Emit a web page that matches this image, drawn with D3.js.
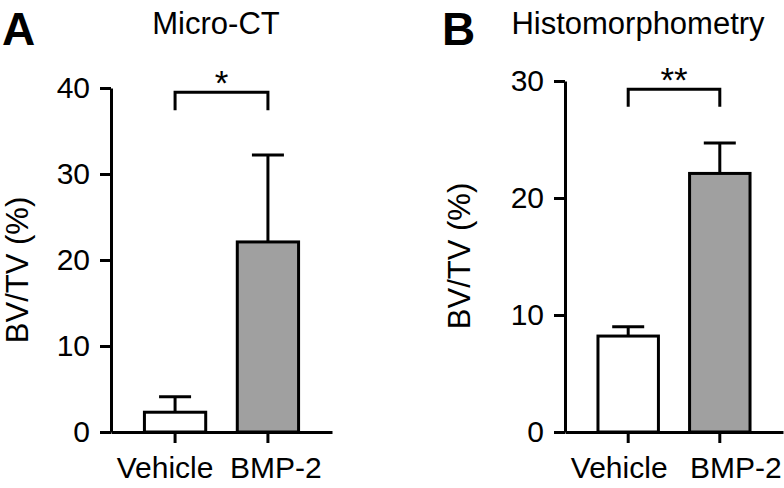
<!DOCTYPE html>
<html>
<head>
<meta charset="utf-8">
<script src="https://cdn.jsdelivr.net/npm/d3@7"></script>
<style>
  body { margin: 0; background: #fff; }
  svg { font-family: "Liberation Sans", Arial, Helvetica, sans-serif; }
</style>
</head>
<body>
<svg width="784" height="488"></svg>
<script>
var groups = ["Vehicle", "BMP-2"];

// panel A: micro-CT
var ctMeans = [2.3, 22.1];
var ctErrors = [1.8, 10.1];
var ctTicks = [0, 10, 20, 30, 40];
var ctSig = "*";

// panel B: histomorphometry
var histMeans = [8.2, 22.1];
var histErrors = [0.8, 2.6];
var histTicks = [0, 10, 20, 30];
var histSig = "**";

var svg = d3.select("svg");

var panels = [
    { letter: "A", title: "Micro-CT", means: ctMeans, errors: ctErrors, ticks: ctTicks, sig: ctSig,
      left: 111, right: 332, top: 88, bottom: 432, letterX: 2, titleX: 216, labelX: 28, labelY: 270,
      catShift: [-10, 8], bracketTop: 39.5, bracketBottom: 37.4 },
    { letter: "B", title: "Histomorphometry", means: histMeans, errors: histErrors, ticks: histTicks, sig: histSig,
      left: 565, right: 783, top: 81, bottom: 432, letterX: 442, titleX: 638, labelX: 470, labelY: 256,
      catShift: [-9, 16], bracketTop: 29.3, bracketBottom: 27.8 }
];

panels.forEach(function (p) {
    var g = svg.append("g");

    var x = d3.scaleBand()
        .domain(groups)
        .range([p.left, p.right])
        .paddingInner(0.34)
        .paddingOuter(0.36);

    var y = d3.scaleLinear()
        .domain([0, d3.max(p.ticks)])
        .range([p.bottom, p.top]);

    var data = groups.map(function (k, i) {
        return { key: k, mean: p.means[i], err: p.errors[i], i: i };
    });

    // error bars (upper only)
    var eb = g.append("g")
        .attr("stroke", "#000")
        .attr("stroke-width", 3)
        .selectAll("g")
        .data(data)
        .enter().append("g");

    eb.append("line")
        .attr("x1", function (d) { return x(d.key) + x.bandwidth() / 2; })
        .attr("x2", function (d) { return x(d.key) + x.bandwidth() / 2; })
        .attr("y1", function (d) { return y(d.mean); })
        .attr("y2", function (d) { return y(d.mean + d.err); });

    eb.append("line")
        .attr("x1", function (d) { return x(d.key) + x.bandwidth() / 2 - 16; })
        .attr("x2", function (d) { return x(d.key) + x.bandwidth() / 2 + 16; })
        .attr("y1", function (d) { return y(d.mean + d.err); })
        .attr("y2", function (d) { return y(d.mean + d.err); });

    // bars
    g.append("g")
        .selectAll("rect")
        .data(data)
        .enter().append("rect")
        .attr("x", function (d) { return x(d.key); })
        .attr("width", x.bandwidth())
        .attr("y", function (d) { return y(d.mean); })
        .attr("height", function (d) { return y(0) - y(d.mean); })
        .attr("fill", function (d) { return d.i === 0 ? "#fff" : "#a0a0a0"; })
        .attr("stroke", "#000")
        .attr("stroke-width", 3);

    // y axis
    var yAxis = g.append("g")
        .attr("transform", "translate(" + p.left + ",0)")
        .call(d3.axisLeft(y).tickValues(p.ticks).tickSize(11).tickSizeOuter(0).tickPadding(10));
    yAxis.selectAll("path, line").attr("stroke-width", 3);
    yAxis.selectAll("text").attr("font-size", 30).attr("font-family", null).attr("fill", "#000");

    // x axis
    var xAxis = g.append("g")
        .attr("transform", "translate(0," + p.bottom + ")")
        .call(d3.axisBottom(x).tickSize(11).tickSizeOuter(0).tickPadding(14));
    xAxis.selectAll("path, line").attr("stroke-width", 3);
    xAxis.selectAll("text")
        .attr("font-size", 30)
        .attr("font-family", null)
        .attr("fill", "#000")
        .attr("dx", function (d, i) { return p.catShift[i]; });

    // significance bracket
    var cx0 = x(groups[0]) + x.bandwidth() / 2,
        cx1 = x(groups[1]) + x.bandwidth() / 2;
    g.append("path")
        .attr("d", "M" + cx0 + "," + y(p.bracketBottom) +
            "V" + y(p.bracketTop) + "H" + cx1 + "V" + y(p.bracketBottom))
        .attr("fill", "none")
        .attr("stroke", "#000")
        .attr("stroke-width", 3);

    g.append("text")
        .attr("x", (cx0 + cx1) / 2)
        .attr("y", y(p.bracketTop) + 3)
        .attr("text-anchor", "middle")
        .attr("font-size", 35)
        .text(p.sig);

    // y label
    g.append("text")
        .attr("transform", "translate(" + p.labelX + "," + p.labelY + ")rotate(-90)")
        .attr("text-anchor", "middle")
        .attr("font-size", 31)
        .text("BV/TV (%)");

    // title + panel letter
    g.append("text")
        .attr("x", p.titleX)
        .attr("y", 34)
        .attr("text-anchor", "middle")
        .attr("font-size", 31)
        .text(p.title);

    g.append("text")
        .attr("x", p.letterX)
        .attr("y", 45)
        .attr("font-size", 46)
        .attr("font-weight", "bold")
        .text(p.letter);
});
</script>
</body>
</html>
